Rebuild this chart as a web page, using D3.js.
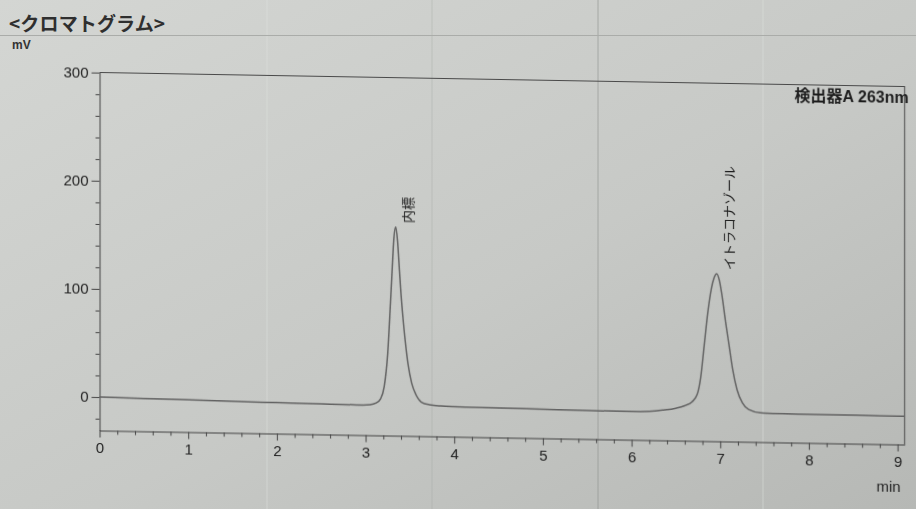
<!DOCTYPE html>
<html>
<head>
<meta charset="utf-8">
<script src="https://cdn.jsdelivr.net/npm/d3@7"></script>
<style>
    body { margin: 0; background: #c8cac7; overflow: hidden; }
    svg { display: block; }
</style>
</head>
<body>
<svg id="chart"></svg>
<script>
// chromatogram trace (time in min, signal in mV)
const traceTimes = [0.00, 0.50, 1.00, 1.50, 2.00, 2.50, 2.90, 3.05, 3.12, 3.17, 3.21, 3.25, 3.28,
    3.30, 3.32, 3.34, 3.36, 3.38, 3.40, 3.42, 3.45, 3.48, 3.52, 3.57, 3.63, 3.72, 3.85, 4.00,
    4.50, 5.00, 5.50, 6.00, 6.20, 6.35, 6.50, 6.60, 6.68, 6.74, 6.78, 6.82, 6.86, 6.90, 6.93,
    6.96, 6.99, 7.02, 7.06, 7.10, 7.14, 7.19, 7.25, 7.32, 7.45, 7.70, 8.00, 8.50, 9.08];
const traceMv = [0, -0.6, -1.2, -1.8, -2.3, -2.8, -3.1, -2.6, -1, 3, 14, 45, 90,
    122, 152, 162, 150, 125, 100, 80, 55, 35, 18, 7, 0.5, -1.8, -2.8, -3.2,
    -3.6, -4.1, -4.6, -4.8, -4.3, -3, -1, 1.5, 5, 12, 28, 58, 88, 110, 120,
    124, 118, 104, 80, 58, 36, 17, 5, -1, -3.8, -4.3, -4.5, -4.6, -4.8];

const peakNames = ['内標', 'イトラコナゾール'];
const peakTimes = [3.34, 6.96];

const xTicks = [0, 1, 2, 3, 4, 5, 6, 7, 8, 9];
const yTicks = [0, 100, 200, 300];

const chartTitle = '<クロマトグラム>';
const yUnit = 'mV';
const xUnit = 'min';
const detectorLabel = '検出器A 263nm';

(function () {
    const state = {
        svg: null,
        plot: null,
        x: null,
        y: null
    };

    const width = 916;
    const height = 509;
    const latin = '"Liberation Sans", Arial, "Noto Sans CJK JP", sans-serif';
    const cjk = '"Noto Sans CJK JP", "Liberation Sans", sans-serif';

    function initCanvas() {
        state.svg = d3.select('#chart')
            .attr('width', width)
            .attr('height', height);

        const defs = state.svg.append('defs');
        const grad = defs.append('linearGradient')
            .attr('id', 'paper')
            .attr('x1', 0).attr('y1', 0)
            .attr('x2', 1).attr('y2', 1);
        grad.append('stop').attr('offset', '0%').attr('stop-color', '#d4d6d3');
        grad.append('stop').attr('offset', '55%').attr('stop-color', '#c7c9c6');
        grad.append('stop').attr('offset', '100%').attr('stop-color', '#b6b8b5');

        defs.append('filter')
            .attr('id', 'soft')
            .append('feGaussianBlur')
            .attr('stdDeviation', 0.35);

        state.svg.append('rect')
            .attr('width', width)
            .attr('height', height)
            .attr('fill', 'url(#paper)');

        // faint streaks that run through the photo
        const streaks = [[267, '#e2e4e1', 0.5], [432, '#9fa19e', 0.35], [598, '#8e908d', 0.6], [763, '#e2e4e1', 0.5]];
        state.svg.append('g')
            .selectAll('line')
            .data(streaks)
            .enter()
            .append('line')
            .attr('x1', d => d[0]).attr('x2', d => d[0])
            .attr('y1', 0).attr('y2', height)
            .attr('stroke', d => d[1])
            .attr('stroke-opacity', d => d[2])
            .attr('stroke-width', 1);
    }

    function drawHeader() {
        state.svg.append('line')
            .attr('x1', 0).attr('x2', width)
            .attr('y1', 35.5).attr('y2', 35.5)
            .attr('stroke', '#aaaca9')
            .attr('stroke-width', 1);

        state.svg.append('text')
            .attr('x', 9)
            .attr('y', 31)
            .attr('textLength', 156)
            .attr('lengthAdjust', 'spacing')
            .style('font-family', cjk)
            .style('font-size', '19px')
            .style('font-weight', 'bold')
            .attr('fill', '#2f2f2f')
            .text(chartTitle);

        state.svg.append('text')
            .attr('x', 12)
            .attr('y', 49)
            .style('font-family', latin)
            .style('font-size', '12px')
            .style('font-weight', 'bold')
            .attr('fill', '#333')
            .text(yUnit);
    }

    function initScales() {
        state.x = d3.scaleLinear().domain([0, 9.08]).range([99.5, 904.6]);
        state.y = d3.scaleLinear().domain([-31, 300]).range([430.6, 72.6]);

        // the sheet was photographed a little tilted
        state.plot = state.svg.append('g')
            .attr('transform', 'translate(100,0) skewY(1.0) translate(-100,0)')
            .attr('filter', 'url(#soft)');
    }

    function styleAxis(g) {
        g.selectAll('path, line').attr('stroke', '#444').attr('stroke-width', 1);
        g.selectAll('text')
            .style('font-family', latin)
            .style('font-size', '15px')
            .attr('fill', '#222');
    }

    function drawAxes() {
        const { x, y, plot } = state;
        const xEnd = x.domain()[1];

        const yMinor = d3.range(-20, 301, 20).filter(v => v % 100 !== 0);
        plot.append('g')
            .attr('transform', `translate(${x(0)},0)`)
            .call(d3.axisLeft(y).tickValues(yMinor).tickSize(4).tickFormat(''))
            .call(g => g.select('.domain').remove())
            .call(styleAxis);

        plot.append('g')
            .attr('transform', `translate(${x(0)},0)`)
            .call(d3.axisLeft(y).tickValues(yTicks).tickSize(8).tickPadding(3).tickSizeOuter(0))
            .call(styleAxis);

        const xMinor = d3.range(1, 46).map(i => i * 0.2).filter((v, i) => (i + 1) % 5 !== 0);
        plot.append('g')
            .attr('transform', `translate(0,${y(-31)})`)
            .call(d3.axisBottom(x).tickValues(xMinor).tickSize(4).tickFormat(''))
            .call(g => g.select('.domain').remove())
            .call(styleAxis);

        plot.append('g')
            .attr('transform', `translate(0,${y(-31)})`)
            .call(d3.axisBottom(x).tickValues(xTicks).tickSize(7).tickPadding(5).tickSizeOuter(0))
            .call(styleAxis);

        // frame: top at 300 mV, right at end of run
        plot.append('path')
            .attr('d', `M${x(0)},${y(300)}H${x(xEnd)}V${y(-31)}`)
            .attr('fill', 'none')
            .attr('stroke', '#4a4a4a')
            .attr('stroke-width', 1);

        plot.append('text')
            .attr('x', x(9) + 3)
            .attr('y', y(-31) + 47)
            .attr('text-anchor', 'end')
            .style('font-family', latin)
            .style('font-size', '15px')
            .attr('fill', '#222')
            .text(xUnit);

        plot.append('text')
            .attr('x', x(xEnd) + 4)
            .attr('y', y(300) + 16)
            .attr('text-anchor', 'end')
            .style('font-family', latin)
            .style('font-size', '16px')
            .style('font-weight', 'bold')
            .attr('fill', '#1e1e1e')
            .text(detectorLabel);
    }

    function drawTrace() {
        const { x, y, plot } = state;
        const line = d3.line()
            .x(i => x(traceTimes[i]))
            .y(i => y(traceMv[i]))
            .curve(d3.curveMonotoneX);

        plot.append('path')
            .datum(d3.range(traceTimes.length))
            .attr('d', line)
            .attr('fill', 'none')
            .attr('stroke', '#626262')
            .attr('stroke-width', 1.5);
    }

    function drawPeakLabels() {
        const { x, y, plot } = state;
        peakNames.forEach((name, k) => {
            const idx = traceTimes.indexOf(peakTimes[k]);
            const top = traceMv[idx];
            plot.append('text')
                .attr('transform', `translate(${x(peakTimes[k]) + 11.5},${y(top) - 4}) rotate(-90)`)
                .attr('dominant-baseline', 'central')
                .style('font-family', cjk)
                .style('font-size', '13px')
                .attr('fill', '#1f1f1f')
                .text(name);
        });
    }

    function init() {
        initCanvas();
        drawHeader();
        initScales();
        drawAxes();
        drawTrace();
        drawPeakLabels();
    }

    init();
})();
</script>
</body>
</html>
